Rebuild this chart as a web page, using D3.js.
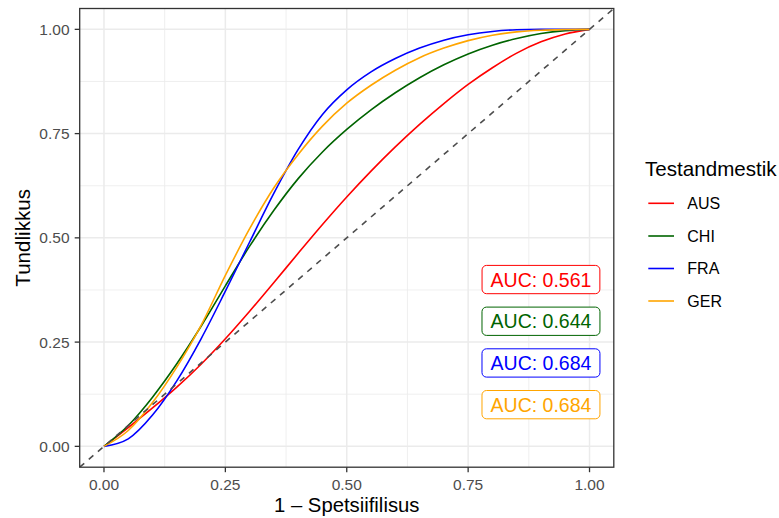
<!DOCTYPE html>
<html><head><meta charset="utf-8">
<script src="https://cdn.jsdelivr.net/npm/d3@7"></script>
<style>
html,body{margin:0;padding:0;background:#fff;}
svg{display:block;font-family:"Liberation Sans",Arial,Helvetica,sans-serif;}
</style></head>
<body>
<svg id="chart" width="779" height="518"></svg>
<script>
// ---- data ----
const fpr = [0,0.05,0.1,0.15,0.2,0.25,0.3,0.35,0.4,0.45,0.5,0.55,0.6,0.65,0.7,0.75,0.8,0.85,0.9,0.95,1];
const tprAUS = [0,0.045,0.092,0.142,0.197,0.258,0.324,0.393,0.463,0.532,0.598,0.660,0.718,0.772,0.822,0.868,0.908,0.943,0.970,0.989,1];
const tprCHI = [0,0.05,0.118,0.198,0.288,0.385,0.48,0.566,0.642,0.706,0.76,0.807,0.848,0.884,0.915,0.941,0.962,0.978,0.99,0.997,1];
const tprFRA = [0,0.018,0.075,0.157,0.258,0.372,0.49,0.607,0.712,0.796,0.855,0.898,0.93,0.955,0.974,0.987,0.995,0.999,1,1,1];
const tprGER = [0,0.038,0.105,0.19,0.29,0.41,0.522,0.62,0.70,0.768,0.823,0.866,0.902,0.932,0.955,0.973,0.986,0.994,0.998,0.9995,1];
const groups = ["AUS","CHI","FRA","GER"];
const colors = ["#FF0000","#006400","#0000FF","#FFA500"];
const aucLabels = ["AUC: 0.561","AUC: 0.644","AUC: 0.684","AUC: 0.684"];
const labelX = [0.9,0.9,0.9,0.9];
const labelY = [0.4,0.3,0.2,0.1];
const ticks = [0,0.25,0.5,0.75,1];
const minorTicks = [0.125,0.375,0.625,0.875];
const xTitle = "1 \u2013 Spetsiifilisus";
const yTitle = "Tundlikkus";
const legendTitle = "Testandmestik";

const series = [tprAUS,tprCHI,tprFRA,tprGER];

// ---- layout ----
const svg = d3.select("#chart");
const P = {left:79.7, right:613.8, top:8.5, bottom:467.2};
const x = d3.scaleLinear().domain([-0.05,1.05]).range([P.left,P.right]);
const y = d3.scaleLinear().domain([-0.05,1.05]).range([P.bottom,P.top]);

svg.append("defs").append("clipPath").attr("id","clip")
  .append("rect").attr("x",P.left).attr("y",P.top)
  .attr("width",P.right-P.left).attr("height",P.bottom-P.top);

svg.append("rect").attr("x",P.left).attr("y",P.top)
  .attr("width",P.right-P.left).attr("height",P.bottom-P.top).attr("fill","#fff");

const grid = svg.append("g");
grid.selectAll(".vmin").data(minorTicks).enter().append("line")
  .attr("x1",d=>x(d)).attr("x2",d=>x(d)).attr("y1",P.top).attr("y2",P.bottom)
  .attr("stroke","#EBEBEB").attr("stroke-width",0.8);
grid.selectAll(".hmin").data(minorTicks).enter().append("line")
  .attr("y1",d=>y(d)).attr("y2",d=>y(d)).attr("x1",P.left).attr("x2",P.right)
  .attr("stroke","#EBEBEB").attr("stroke-width",0.8);
grid.selectAll(".vmaj").data(ticks).enter().append("line")
  .attr("x1",d=>x(d)).attr("x2",d=>x(d)).attr("y1",P.top).attr("y2",P.bottom)
  .attr("stroke","#EBEBEB").attr("stroke-width",1.5);
grid.selectAll(".hmaj").data(ticks).enter().append("line")
  .attr("y1",d=>y(d)).attr("y2",d=>y(d)).attr("x1",P.left).attr("x2",P.right)
  .attr("stroke","#EBEBEB").attr("stroke-width",1.5);

// curves
const line = d3.line().x(d=>x(d[0])).y(d=>y(d[1])).curve(d3.curveMonotoneX);
const plot = svg.append("g").attr("clip-path","url(#clip)");
series.forEach((s,i)=>{
  plot.append("path").datum(fpr.map((f,j)=>[f,s[j]]))
    .attr("d",line).attr("fill","none").attr("stroke",colors[i])
    .attr("stroke-width",1.6).attr("stroke-linejoin","round");
});
// diagonal reference line
plot.append("line").attr("x1",x(-0.05)).attr("y1",y(-0.05)).attr("x2",x(1.05)).attr("y2",y(1.05))
  .attr("stroke","#4D4D4D").attr("stroke-width",1.6).attr("stroke-dasharray","6,6");

// AUC labels
groups.forEach((g,i)=>{
  const gg = svg.append("g");
  const t = gg.append("text").attr("x",x(labelX[i])).attr("y",y(labelY[i]))
    .attr("text-anchor","middle").attr("dominant-baseline","central")
    .attr("font-size",19.5).attr("fill",colors[i]).text(aucLabels[i]);
  const bb = t.node().getBBox();
  const w = bb.width + 17, h = 28.3;
  gg.insert("rect","text").attr("x",x(labelX[i])-w/2).attr("y",y(labelY[i])-h/2)
    .attr("width",w).attr("height",h).attr("rx",4.5).attr("ry",4.5)
    .attr("fill","#fff").attr("stroke",colors[i]).attr("stroke-width",1);
});

// panel border
svg.append("rect").attr("x",P.left).attr("y",P.top)
  .attr("width",P.right-P.left).attr("height",P.bottom-P.top)
  .attr("fill","none").attr("stroke","#333333").attr("stroke-width",1.3);

// axes
const ax = svg.append("g");
ax.selectAll(".xt").data(ticks).enter().append("line")
  .attr("x1",d=>x(d)).attr("x2",d=>x(d)).attr("y1",P.bottom).attr("y2",P.bottom+5)
  .attr("stroke","#333333").attr("stroke-width",1.3);
ax.selectAll(".yt").data(ticks).enter().append("line")
  .attr("y1",d=>y(d)).attr("y2",d=>y(d)).attr("x1",P.left-5).attr("x2",P.left)
  .attr("stroke","#333333").attr("stroke-width",1.3);
ax.selectAll(".xl").data(ticks).enter().append("text")
  .attr("x",d=>x(d)).attr("y",489.8).attr("text-anchor","middle")
  .attr("font-size",15.5).attr("fill","#4D4D4D").text(d=>d3.format(".2f")(d));
ax.selectAll(".yl").data(ticks).enter().append("text")
  .attr("x",69.5).attr("y",d=>y(d)).attr("text-anchor","end").attr("dominant-baseline","central")
  .attr("font-size",15.5).attr("fill","#4D4D4D").text(d=>d3.format(".2f")(d));

// titles
svg.append("text").attr("x",(P.left+P.right)/2).attr("y",512).attr("text-anchor","middle")
  .attr("font-size",20.3).attr("fill","#000").text(xTitle);
svg.append("text").attr("transform",`translate(29.5,${(P.top+P.bottom)/2}) rotate(-90)`)
  .attr("text-anchor","middle").attr("font-size",20.6).attr("fill","#000").text(yTitle);

// legend
const lg = svg.append("g");
lg.append("text").attr("x",645).attr("y",176).attr("font-size",20.6).attr("fill","#000").text(legendTitle);
const legY = [203.3,236.0,268.5,301.0];
groups.forEach((g,i)=>{
  lg.append("line").attr("x1",648.3).attr("x2",674).attr("y1",legY[i]).attr("y2",legY[i])
    .attr("stroke",colors[i]).attr("stroke-width",1.6);
  lg.append("text").attr("x",687.3).attr("y",legY[i]).attr("dominant-baseline","central")
    .attr("font-size",16).attr("fill","#000").text(g);
});
</script>
</body></html>
